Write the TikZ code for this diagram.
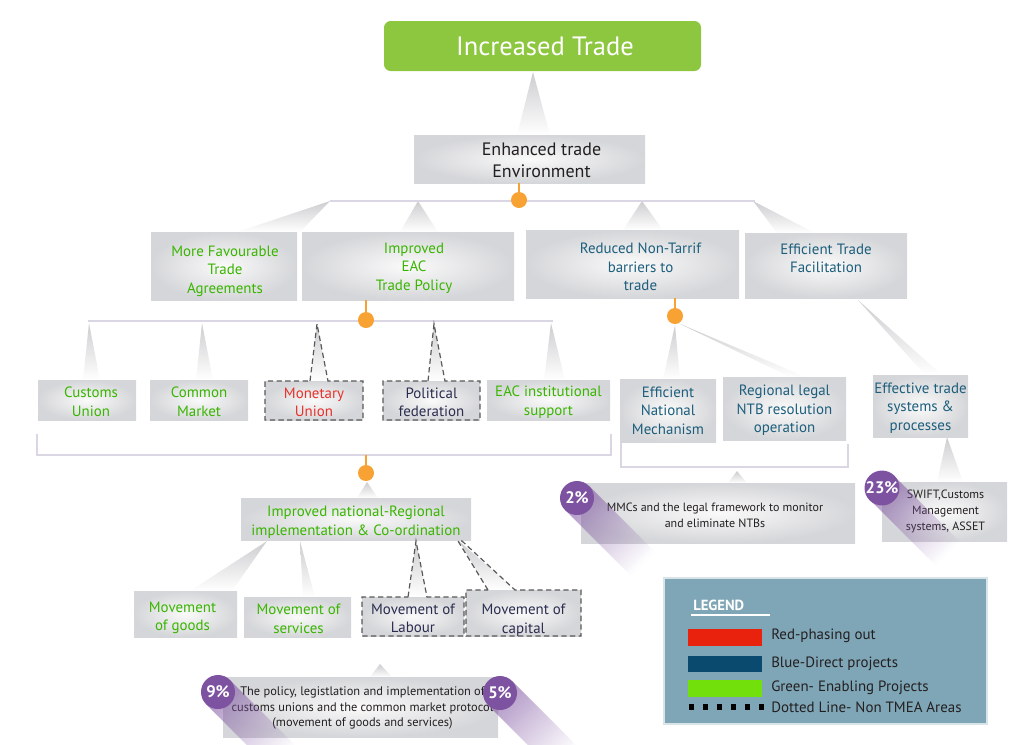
\documentclass[tikz,border=0pt]{standalone}
\usepackage{fontspec}
\setmainfont{PT Sans}
\usetikzlibrary{calc,fadings}
\definecolor{tgreen}{RGB}{57,181,0}
\definecolor{tblue}{RGB}{28,94,124}
\definecolor{tred}{RGB}{232,49,42}
\definecolor{tnavy}{RGB}{43,45,79}
\definecolor{tdark}{RGB}{35,31,32}
\definecolor{torange}{RGB}{247,162,51}
\definecolor{tline}{RGB}{218,214,228}
\definecolor{boxgray}{RGB}{213,214,217}
\definecolor{boxin}{RGB}{250,250,250}
\definecolor{spikegray}{RGB}{205,205,208}
\definecolor{tpurple}{RGB}{125,82,160}
\definecolor{topgreen}{RGB}{141,198,63}
\definecolor{legbg}{RGB}{127,166,182}
\definecolor{legred}{RGB}{232,34,12}
\definecolor{legblue}{RGB}{10,74,110}
\definecolor{leggreen}{RGB}{114,224,10}
\newcommand\tfA{\fontsize{11.2}{13.9}\selectfont}
\newcommand\tfB{\fontsize{13.5}{16.5}\selectfont}
\newcommand\tfC{\fontsize{9}{11.8}\selectfont}
\newcommand\tfD{\fontsize{11.2}{13}\selectfont}
% box: name, x1, y1, x2, y2, text shift, text style, text
\newcommand\BX[8]{%
  \node[gbox, minimum width={(#4-#2)*0.75pt}, minimum height={(#5-#3)*0.75pt}] (#1) at ({(#2+#4)/2},{(#3+#5)/2}) {};
  \node[btxt,#7] (#1-t) at ($(#1.center)+(#6)$) {#8};}
\begin{document}
\begin{tikzpicture}[x=0.75pt,y=-0.75pt,
  gbox/.style={inner sep=0pt, shade, inner color=boxin, outer color=boxgray},
  btxt/.style={inner sep=0pt, align=center, font=\tfA},
  spk/.style={top color=spikegray, bottom color=white, draw=none},
  dbox/.style={draw=black!65, dash pattern=on 4pt off 2.5pt, line width=0.9pt},
  hl/.style={draw=tline, line width=1.1pt},
  oline/.style={draw=torange, line width=1.1pt},
  odot/.style={circle, fill=torange, minimum size=12pt, inner sep=0pt},
  badge/.style={circle, fill=tpurple, text=white, font=\bfseries\fontsize{12.5}{12.5}\selectfont, minimum size=25.5pt, inner sep=0pt},
  band/.style={fill=tpurple, fill opacity=0.6, path fading=east, fading angle=-45},
  legtxt/.style={anchor=west, inner sep=0pt, text=tdark, font=\tfD}]
\useasboundingbox (0,0) rectangle (1024,744);

% ---------- spikes ----------
\shade[spk] (533,72) -- (517,135) -- (550,135) -- cycle;
\shade[spk] (330,201) -- (237,232) -- (300,232) -- cycle;
\shade[spk] (418,201) -- (400,232) -- (438,232) -- cycle;
\shade[spk] (642,201) -- (623,230) -- (663,230) -- cycle;
\shade[spk] (753,201) -- (777,233) -- (815,233) -- cycle;
\shade[spk] (89,323) -- (83,380) -- (100,380) -- cycle;
\shade[spk] (202,323) -- (196,380) -- (213,380) -- cycle;
\shade[spk] (317,324) -- (310,381) -- (328,381) -- cycle;
\shade[spk] (434,324) -- (428,381) -- (445,381) -- cycle;
\shade[spk] (551,323) -- (544,380) -- (565,380) -- cycle;
\shade[spk] (675,325) -- (663,379) -- (680,379) -- cycle;
\shade[spk] (678,323) -- (790,377) -- (806,377) -- cycle;
\shade[spk] (858,300) -- (925,375) -- (942,375) -- cycle;
\shade[spk] (367,482) -- (357,498) -- (378,498) -- cycle;
\shade[spk] (267,541) -- (190,591) -- (232,591) -- cycle;
\shade[spk] (300,541) -- (303,597) -- (315,597) -- cycle;
\shade[spk] (416,541) -- (408,597) -- (427,597) -- cycle;
\shade[spk] (459,541) -- (488,590) -- (515,590) -- cycle;
\shade[spk] (737,471) -- (728,483) -- (747,483) -- cycle;
\shade[spk] (947,437) -- (937,482) -- (963,482) -- cycle;
\shade[spk] (380,664) -- (370,677) -- (392,677) -- cycle;

% ---------- lines ----------
\draw[hl] (330,201) -- (755,201);
\draw[hl] (88,321) -- (553,321);
\draw[hl] (37,434) -- (37,455) -- (611,455) -- (611,434);
\draw[hl] (621,442) -- (621,467) -- (848,467) -- (848,444);

% ---------- boxes ----------
\node[inner sep=0pt, fill=topgreen, rounded corners=5pt, minimum width={317*0.75pt}, minimum height={50*0.75pt}] (top) at (542.5,46) {};
\node[inner sep=0pt, text=white, font=\fontsize{19.9}{22}\selectfont] (top-t) at (545,46) {Increased Trade};
\BX{enh}{414}{135}{645}{183}{12,1}{text=tdark, font=\tfB}{Enhanced trade\\Environment}
\BX{mfta}{151}{232}{297}{300}{1,5}{text=tgreen}{More Favourable\\Trade\\Agreements}
\BX{eac}{302}{232}{514}{300}{6,2}{text=tgreen}{Improved\\EAC\\Trade Policy}
\BX{ntb}{526}{230}{739}{298}{8,3}{text=tblue}{Reduced Non-Tarrif\\barriers to\\trade}
\BX{etf}{745}{233}{907}{298}{0,-7}{text=tblue}{Efficient Trade\\Facilitation}

\BX{cu}{38}{380}{136}{420}{4,2}{text=tgreen}{Customs\\Union}
\BX{cm}{150}{380}{248}{420}{0,2}{text=tgreen}{Common\\Market}
\BX{mu}{265}{381}{363}{420}{0,2}{text=tred}{Monetary\\Union}
\BX{pf}{383}{381}{480}{420}{0,2}{text=tnavy}{Political\\federation}
\BX{eis}{487}{380}{610}{420}{0,2}{text=tgreen}{EAC institutional\\support}
\BX{enm}{620}{379}{716}{442}{0,0}{text=tblue}{Efficient\\National\\Mechanism}
\BX{rln}{723}{377}{846}{440}{0,2}{text=tblue}{Regional legal\\NTB resolution\\operation}
\BX{ets}{873}{375}{968}{437}{0,2}{text=tblue}{Effective trade\\systems \&\\processes}

\BX{inr}{241}{498}{471}{540}{0,3}{text=tgreen}{Improved national-Regional\\implementation \& Co-ordination}
\BX{mg}{134}{591}{237}{637}{-3,4}{text=tgreen}{Movement\\of goods}
\BX{ms}{244}{597}{351}{637}{1,2}{text=tgreen}{Movement of\\services}
\BX{ml}{362}{597}{464}{636}{0,2}{text=tnavy}{Movement of\\Labour}
\BX{mc}{466}{590}{581}{636}{0,7}{text=tnavy}{Movement of\\capital}

\BX{mmc}{581}{483}{855}{543}{-3,2}{text=tdark, font=\tfC}{MMCs and the legal framework to monitor\\and eliminate NTBs}
\BX{swift}{882}{482}{1007}{541}{1,0}{text=tdark, font=\tfC}{SWIFT,Customs\\Management\\systems, ASSET}
\BX{pol}{223}{677}{498}{737}{2,1}{text=tdark, font=\fontsize{9.3}{11.8}\selectfont}{The policy, legistlation and implementation of\\customs unions and the common market protocol\\(movement of goods and services)}

% ---------- dashed outlines ----------
\draw[dbox] (310,381) -- (317,324) -- (328,381) -- (363,381) -- (363,420) -- (265,420) -- (265,381) -- cycle;
\draw[dbox] (428,381) -- (434,324) -- (445,381) -- (480,381) -- (480,420) -- (383,420) -- (383,381) -- cycle;
\draw[dbox] (408,597) -- (416,541) -- (427,597) -- (464,597) -- (464,636) -- (362,636) -- (362,597) -- cycle;
\draw[dbox] (488,590) -- (458,541) -- (462,541) -- (515,590) -- (581,590) -- (581,636) -- (466,636) -- (466,590) -- cycle;

% ---------- orange connectors ----------
\node[odot] (d1) at (519,200) {};
\node[odot] (d2) at (366,320) {};
\node[odot] (d3) at (675,316) {};
\node[odot] (d4) at (366,473) {};
\coordinate (b1) at (366,455);
\draw[oline] (d1) -- (d1 |- enh.south);
\draw[oline] (d2) -- (d2 |- eac.south);
\draw[oline] (d3) -- (d3 |- ntb.south);
\draw[oline] (d4) -- (b1);

% ---------- percentage badges ----------
\coordinate (c9) at (218,692);
\coordinate (c5) at (500,693);
\coordinate (c2) at (577,498);
\coordinate (c23) at (882,488);
\foreach \c in {c9,c5,c2,c23}{
  \fill[band] (\c) ++(12,-12) -- ++(-24,24) -- ++(67,67) -- ++(24,-24) -- cycle;
}
\node[badge] (p9) at (c9) {9\%};
\node[badge] (p5) at (c5) {5\%};
\node[badge] (p2) at (c2) {2\%};
\node[badge] (p23) at (c23) {23\%};

% ---------- legend ----------
\node[inner sep=0pt, fill=legbg, draw=white!70!legbg, line width=0.8pt, minimum width={323*0.75pt}, minimum height={146*0.75pt}] (leg) at (825.5,651) {};
\node[anchor=west, inner sep=0pt, text=white, font=\bfseries\fontsize{11}{12}\selectfont] (legt) at (693,605) {LEGEND};
\draw[white, line width=0.8pt] (691,615) -- (770,615);
\fill[legred] (688,629) rectangle (762,646);
\fill[legblue] (688,656) rectangle (762,672);
\fill[leggreen] (688,680) rectangle (762,697);
\draw[black, line width=5pt, dash pattern=on 3.6pt off 6.9pt] (689,707) -- (766,707);
\node[legtxt] (l1) at (771,636) {Red-phasing out};
\node[legtxt] (l2) at (771,664) {Blue-Direct projects};
\node[legtxt] (l3) at (771,688) {Green- Enabling Projects};
\node[legtxt] (l4) at (771,707) {Dotted Line- Non TMEA Areas};
\end{tikzpicture}
\end{document}
